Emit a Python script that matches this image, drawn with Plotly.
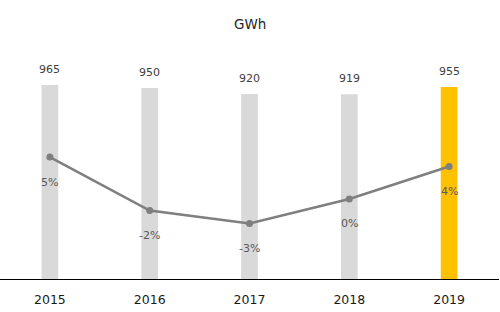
import plotly.graph_objects as go

years = ["2015", "2016", "2017", "2018", "2019"]
gwh = [965, 950, 920, 919, 955]
growth = [5.1, -1.55, -3.16, -0.11, 3.92]
growth_labels = ["5%", "-2%", "-3%", "0%", "4%"]
bar_colors = ["#d9d9d9", "#d9d9d9", "#d9d9d9", "#d9d9d9", "#ffc000"]

pos = list(range(len(years)))

fig = go.Figure()
fig.add_trace(go.Bar(
    x=pos, y=gwh, marker=dict(color=bar_colors, line=dict(width=0)),
    width=0.167, showlegend=False, hoverinfo="skip",
))
fig.add_trace(go.Scatter(
    x=pos, y=growth, yaxis="y2", mode="lines+markers",
    line=dict(color="#7f7f7f", width=2.5),
    marker=dict(color="#7f7f7f", size=7),
    showlegend=False, hoverinfo="skip",
))

annotations = []
for p, v in zip(pos, gwh):
    annotations.append(dict(x=p, y=v, xref="x", yref="y", text=str(v),
                            showarrow=False, yanchor="bottom", yshift=7,
                            font=dict(family="DejaVu Sans", size=11, color="#404040")))
for p, v, lab in zip(pos, growth, growth_labels):
    annotations.append(dict(x=p, y=v, xref="x", yref="y2", text=lab,
                            showarrow=False, yanchor="middle", yshift=-25,
                            font=dict(family="DejaVu Sans", size=11, color="#595959")))
annotations.append(dict(text="GWh", xref="paper", yref="paper", x=0.5, y=1,
                        yanchor="bottom", yshift=6, showarrow=False,
                        font=dict(family="DejaVu Sans", size=13.5, color="#262626")))

fig.update_layout(
    width=500, height=312,
    margin=dict(l=0, r=1, t=40, b=33),
    paper_bgcolor="white", plot_bgcolor="white",
    xaxis=dict(type="linear", range=[-0.5, len(years) - 0.5], tickmode="array",
               tickvals=pos, ticktext=years,
               showgrid=False, zeroline=False, showline=True,
               linecolor="#000000", linewidth=1.2, ticks="",
               ticklabelstandoff=9,
               tickfont=dict(family="DejaVu Sans", size=12.5, color="#1a1a1a")),
    yaxis=dict(range=[0, 1189], visible=False),
    yaxis2=dict(range=[-10.05, 19.64], overlaying="y", visible=False),
    annotations=annotations,
)

fig.write_html("out.html")
